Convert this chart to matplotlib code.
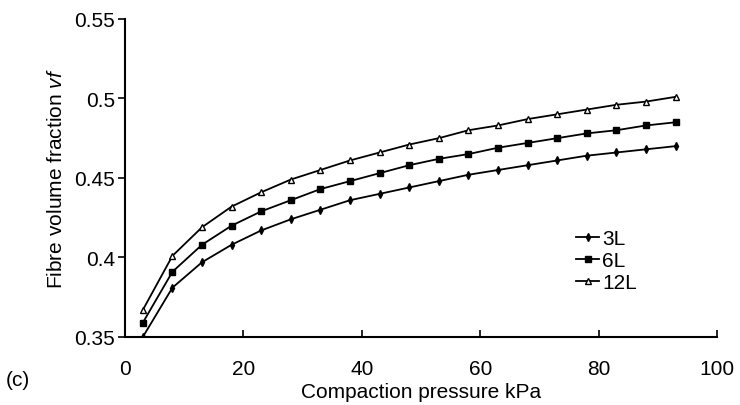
import matplotlib
matplotlib.use("Agg")
import matplotlib.pyplot as plt

plt.rcParams["font.family"] = ["Liberation Sans", "DejaVu Sans"]
plt.rcParams["mathtext.fontset"] = "custom"
plt.rcParams["mathtext.rm"] = "Liberation Sans"
plt.rcParams["mathtext.it"] = "Liberation Sans:italic"

# compaction pressure, kPa
pressure = [3, 8, 13, 18, 23, 28, 33, 38, 43, 48, 53, 58, 63, 68, 73, 78, 83, 88, 93]

vf_3l = [0.350, 0.381, 0.397, 0.408, 0.417, 0.424, 0.430, 0.436, 0.440, 0.444,
         0.448, 0.452, 0.455, 0.458, 0.461, 0.464, 0.466, 0.468, 0.470]
vf_6l = [0.359, 0.391, 0.408, 0.420, 0.429, 0.436, 0.443, 0.448, 0.453, 0.458,
         0.462, 0.465, 0.469, 0.472, 0.475, 0.478, 0.480, 0.483, 0.485]
vf_12l = [0.367, 0.401, 0.419, 0.432, 0.441, 0.449, 0.455, 0.461, 0.466, 0.471,
          0.475, 0.480, 0.483, 0.487, 0.490, 0.493, 0.496, 0.498, 0.501]

x_ticks = [0, 20, 40, 60, 80, 100]
y_ticks = [0.35, 0.4, 0.45, 0.5, 0.55]
y_tick_labels = ["0.35", "0.4", "0.45", "0.5", "0.55"]

fig = plt.figure(figsize=(7.4, 4.06), dpi=100)
ax = fig.add_axes([0.169, 0.1675, 0.8, 0.7835])

ax.plot(pressure, vf_3l, color="black", lw=1.3, marker="d", ms=4, label="3L")
ax.plot(pressure, vf_6l, color="black", lw=1.3, marker="s", ms=5, label="6L")
ax.plot(pressure, vf_12l, color="black", lw=1.3, marker="^", ms=5,
        mfc="white", mec="black", mew=1.0, label="12L")

ax.set_xlim(0, 100)
ax.set_ylim(0.35, 0.55)
ax.set_xticks(x_ticks)
ax.set_yticks(y_ticks)
ax.set_yticklabels(y_tick_labels)
for side in ("top", "right"):
    ax.spines[side].set_visible(False)
for side in ("left", "bottom"):
    ax.spines[side].set_linewidth(1.5)
ax.tick_params(axis="x", direction="in", length=5, width=1.2, labelsize=15, pad=16)
ax.tick_params(axis="y", direction="out", length=5, width=1.2, labelsize=15, pad=2)

ax.set_xlabel("Compaction pressure kPa", fontsize=15, labelpad=3)
ax.set_ylabel(r"Fibre volume fraction $\mathit{vf}$", fontsize=15, labelpad=6)

ax.legend(loc="upper left", bbox_to_anchor=(0.762, 0.34), frameon=False,
          fontsize=15, handlelength=1.1, handletextpad=0.15, labelspacing=0.15,
          borderaxespad=0, borderpad=0)

fig.text(0.008, 0.05, "(c)", fontsize=15)

fig.savefig("out.png", dpi=100)
